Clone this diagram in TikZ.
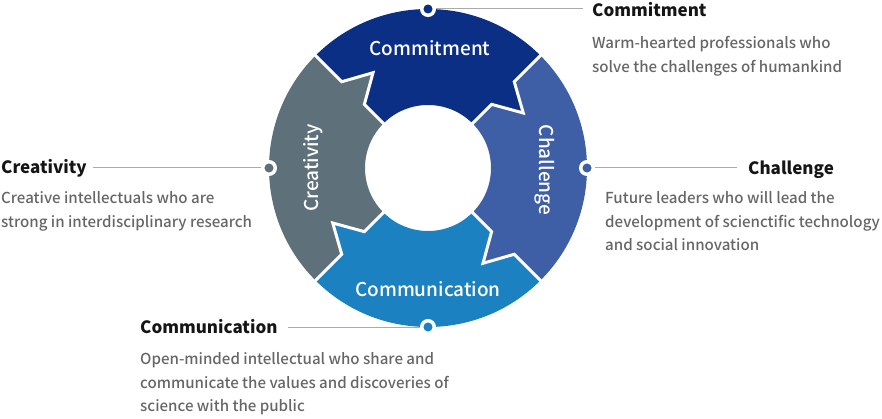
\documentclass[tikz,border=0pt]{standalone}
\usepackage{fontspec}
\setmainfont{Noto Sans CJK KR}
\newfontfamily\medfont{Noto Sans CJK KR Medium}
\definecolor{cCommit}{HTML}{0C2F86}
\definecolor{cChall}{HTML}{3E5EA6}
\definecolor{cComm}{HTML}{1C81C0}
\definecolor{cCreat}{HTML}{5E707A}
\definecolor{cBody}{HTML}{666666}
\definecolor{cTitle}{HTML}{151515}
\definecolor{cLine}{HTML}{AAAAAA}
\newcommand\segpath[2]{(#1:63pt) -- (#1:90pt) -- ({#1-15}:110pt) -- (#1:122pt) -- (#1:159pt) arc[start angle=#1, end angle=#2, radius=159pt] -- (#2:122pt) -- ({#2-15}:110pt) -- (#2:90pt) -- (#2:63pt) arc[start angle=#2, end angle=#1, radius=63pt] -- cycle}
\newcommand\seppath[1]{(#1:60pt) -- (#1:90pt) -- ({#1-15}:110pt) -- (#1:122pt) -- (#1:162pt)}
\tikzset{
  ringlabel/.style={text=white, font=\medfont\fontsize{19}{19}\selectfont, inner sep=0pt},
  title/.style={text=cTitle, font=\bfseries\fontsize{17}{17}\selectfont, inner sep=0pt, anchor=base west},
  body/.style={text=cBody, font=\medfont\fontsize{15.1}{15.1}\selectfont, inner sep=0pt, anchor=base west},
  leader/.style={draw=cLine, line width=1pt},
  dotmark/.style={circle, draw=white, line width=3.5pt, minimum size=12.5pt, inner sep=0pt},
  sep/.style={draw=white, line width=3pt, line join=miter},
}
\begin{document}
\begin{tikzpicture}[x=1pt,y=1pt]
\useasboundingbox (0,0) rectangle (882,418);
\begin{scope}[shift={(428,250)}]
  \fill[cCommit] \segpath{135}{45};
  \fill[cChall] \segpath{45}{-45};
  \fill[cComm] \segpath{-45}{-135};
  \fill[cCreat] \segpath{-135}{-225};
  \foreach \a in {45,-45,-135,135} { \draw[sep] \seppath{\a}; }
  \node[ringlabel] (lCommit) at (2,120) {Commitment};
  \node[ringlabel] (lComm) at (0,-121) {Communication};
  \node[ringlabel, rotate=-90] (lChall) at (117,-2) {Challenge};
  \node[ringlabel, rotate=90] (lCreat) at (-115,0) {Creativity};
  \coordinate (pTop) at (90:159pt);
  \coordinate (pRight) at (0:159pt);
  \coordinate (pBottom) at (-90:159pt);
  \coordinate (pLeft) at (180:159pt);
\end{scope}
\coordinate (eTop) at (583,409);
\coordinate (eRight) at (737,250);
\coordinate (eBottom) at (288,91);
\coordinate (eLeft) at (93,250);
\draw[leader] (pTop) -- (eTop);
\draw[leader] (pRight) -- (eRight);
\draw[leader] (pBottom) -- (eBottom);
\draw[leader] (pLeft) -- (eLeft);
\node[dotmark, fill=cCommit] (dTop) at (pTop) {};
\node[dotmark, fill=cChall] (dRight) at (pRight) {};
\node[dotmark, fill=cComm] (dBottom) at (pBottom) {};
\node[dotmark, fill=cCreat] (dLeft) at (pLeft) {};
% Commitment
\node[title] (tCommit) at (592,401.3) {Commitment};
\node[body] (bCommit1) at (592,369) {Warm-hearted professionals who};
\node[body] (bCommit2) at (592,345.7) {solve the challenges of humankind};
% Challenge
\node[title] (tChall) at (748,243) {Challenge};
\node[body] (bChall1) at (605,214.7) {Future leaders who will lead the};
\node[body] (bChall2) at (605,190.7) {development of scienctific technology};
\node[body] (bChall3) at (605,168) {and social innovation};
% Creativity
\node[title] (tCreat) at (1,244) {Creativity};
\node[body] (bCreat1) at (1,214.7) {Creative intellectuals who are};
\node[body] (bCreat2) at (1,190.7) {strong in interdisciplinary research};
% Communication
\node[title] (tComm) at (140,85) {Communication};
\node[body] (bComm1) at (140,53.5) {Open-minded intellectual who share and};
\node[body] (bComm2) at (140,30) {communicate the values and discoveries of};
\node[body] (bComm3) at (140,7) {science with the public};
\end{tikzpicture}
\end{document}
